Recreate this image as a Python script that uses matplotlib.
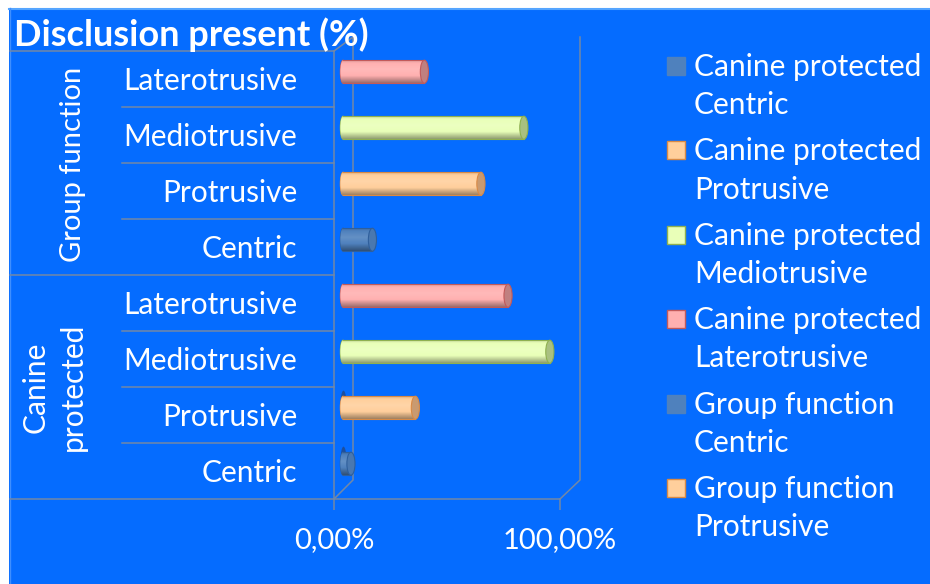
import numpy as np
import matplotlib
matplotlib.use("Agg")
import matplotlib.pyplot as plt
from matplotlib.colors import to_rgb, LinearSegmentedColormap
from matplotlib.patches import Ellipse, Rectangle

plt.rcParams['font.family'] = ['Lato', 'DejaVu Sans']

# bottom to top, same order as the chart rows
categories = ["Centric", "Protrusive", "Mediotrusive", "Laterotrusive",
              "Centric", "Protrusive", "Mediotrusive", "Laterotrusive"]
values = [3.5, 32, 91.5, 73, 13, 61, 80, 36]
kinds = ["centric", "protrusive", "mediotrusive", "laterotrusive",
         "centric", "protrusive", "mediotrusive", "laterotrusive"]
groups = ["Canine\nprotected", "Group function"]
x_ticks = [0, 100]
x_tick_labels = ["0,00%", "100,00%"]
legend_labels = ["Canine protected\nCentric", "Canine protected\nProtrusive",
                 "Canine protected\nMediotrusive", "Canine protected\nLaterotrusive",
                 "Group function\nCentric", "Group function\nProtrusive"]
legend_kinds = ["centric", "protrusive", "mediotrusive", "laterotrusive",
                "centric", "protrusive"]

BG = "#056cff"
LINE = "#7388a6"
# base colour, edge colour, cap colour
COLORS = {
    "centric": ("#4f81bd", "#2f5f9c", "#4a78b0"),
    "protrusive": ("#ffcf9c", "#d98a45", "#c99a70"),
    "mediotrusive": ("#e9ffb8", "#8fb050", "#a9c080"),
    "laterotrusive": ("#ffb0b0", "#c25a5a", "#c08080"),
}
W, H = 930, 584
DEPTH = 2.8     # bars stand a bit into the 3d box
BAR_H = 0.41
BAR_SHIFT = 0.13
CAP_W = 3.6


def px_box(left, top, right, bottom):
    return [left / W, 1 - bottom / H, (right - left) / W, (bottom - top) / H]


def shade(base):
    rgb = np.array(to_rgb(base))
    dark = rgb * 0.62
    light = rgb + (1 - rgb) * 0.12
    return LinearSegmentedColormap.from_list(
        "cyl", [(0, rgb * 0.85), (0.12, rgb), (0.4, light), (0.68, rgb), (1, dark)])


def fill_gradient(ax, patch, base, y0, y1):
    x0, x1 = patch.get_window_extent().x0, patch.get_window_extent().x1
    inv = ax.transData.inverted()
    xa = inv.transform((x0, 0))[0]
    xb = inv.transform((x1, 0))[0]
    grad = np.linspace(0, 1, 64).reshape(-1, 1)
    im = ax.imshow(grad, cmap=shade(base), aspect="auto", origin="upper",
                   extent=(xa, xb, y0, y1), zorder=patch.get_zorder())
    im.set_clip_path(patch)


fig = plt.figure(figsize=(9.3, 5.84), dpi=100, facecolor="white")

# background and the box lines, in pixel coordinates
frame = fig.add_axes([0, 0, 1, 1])
frame.set_xlim(0, W)
frame.set_ylim(H, 0)
frame.axis("off")
frame.add_patch(Rectangle((9, 8), W, H, fc=BG, ec="none"))
frame.plot([9, W], [8.5, 8.5], color="#55a5ff", lw=1.5)
frame.plot([9.5, 9.5], [8, H], color="#3f8fff", lw=1)
for y in [51, 275, 499]:
    frame.plot([10, 334], [y, y], color=LINE, lw=1.1)
for y in [107, 163, 219, 331, 387, 443]:
    frame.plot([122, 334], [y, y], color=LINE, lw=1.1)
frame.plot([334, 353, 353, 334], [51, 37, 480, 499], color=LINE, lw=1.1)
frame.plot([560, 580, 580], [499, 480, 37], color=LINE, lw=1.1)
frame.text(14, 35, "Disclusion present (%)", color="white", fontsize=26,
           fontweight="bold", va="center", ha="left")
frame.text(73, 164, groups[1], color="white", fontsize=21, rotation=90,
           va="center", ha="center")
frame.text(54, 387, groups[0], color="white", fontsize=21.5, rotation=90,
           va="center", ha="center", multialignment="center", linespacing=1.4)

# legend entries, swatch next to the first line as in the original
for i, (label, kind) in enumerate(zip(legend_labels, legend_kinds)):
    y = 66 + 84.4 * i
    ec = COLORS[kind][1] if kind != "centric" else COLORS[kind][0]
    frame.add_patch(Rectangle((667, y - 9), 18, 18, fc=COLORS[kind][0], ec=ec, lw=1))
    frame.text(694, y - 13, label, color="white", fontsize=21.5, va="top", ha="left",
               linespacing=1.44)

ax = fig.add_axes(px_box(334, 51, 560, 499))
ax.patch.set_alpha(0)
ax.set_xlim(0, 100)
ax.set_ylim(0, 8)
for name, sp in ax.spines.items():
    sp.set_visible(name in ("left", "bottom"))
    sp.set_color(LINE)
    sp.set_linewidth(1.1)

y_pos = np.arange(len(categories)) + 0.5
ax.set_yticks(y_pos)
ax.set_yticklabels(categories)
ax.tick_params(axis="y", length=0, pad=26.5, labelcolor="white", labelsize=21.5)
ax.set_xticks(x_ticks)
ax.set_xticklabels(x_tick_labels)
ax.tick_params(axis="x", length=8, width=1.1, color=LINE, pad=12,
               labelcolor="white", labelsize=21)

fig.canvas.draw()

# the empty group function bars peek out behind the two lowest canine rows
for i in [0, 1]:
    ax.add_patch(Ellipse((DEPTH + 1.4, y_pos[i] + BAR_SHIFT + 0.06), 2.6, BAR_H + 0.08,
                         fc="#1d4f9e", ec="none", zorder=2))

for i, (val, kind) in enumerate(zip(values, kinds)):
    base, edge, cap = COLORS[kind]
    yc = y_pos[i] + BAR_SHIFT
    y0, y1 = yc - BAR_H / 2, yc + BAR_H / 2
    left = ax.add_patch(Ellipse((DEPTH + 1.2, yc), 2.4, BAR_H, fc=base, ec=edge,
                                lw=0.8, zorder=3))
    fill_gradient(ax, left, base, y0, y1)
    bars = ax.barh(y_pos[i] + BAR_SHIFT, val, left=DEPTH + 1.2, height=BAR_H,
                   color=base, zorder=3)
    body = bars[0]
    fill_gradient(ax, body, base, y0, y1)
    ax.plot([DEPTH + 1.2, DEPTH + 1.2 + val], [y1, y1], color=edge, lw=0.8, zorder=4)
    ax.plot([DEPTH + 1.2, DEPTH + 1.2 + val], [y0, y0], color=edge, lw=0.8, zorder=4)
    ax.add_patch(Ellipse((DEPTH + 1.2 + val, yc), CAP_W, BAR_H, fc=cap, ec=edge,
                         lw=0.8, zorder=5))
ax.set_xlim(0, 100)
ax.set_ylim(0, 8)

fig.savefig("out.png", dpi=100)
